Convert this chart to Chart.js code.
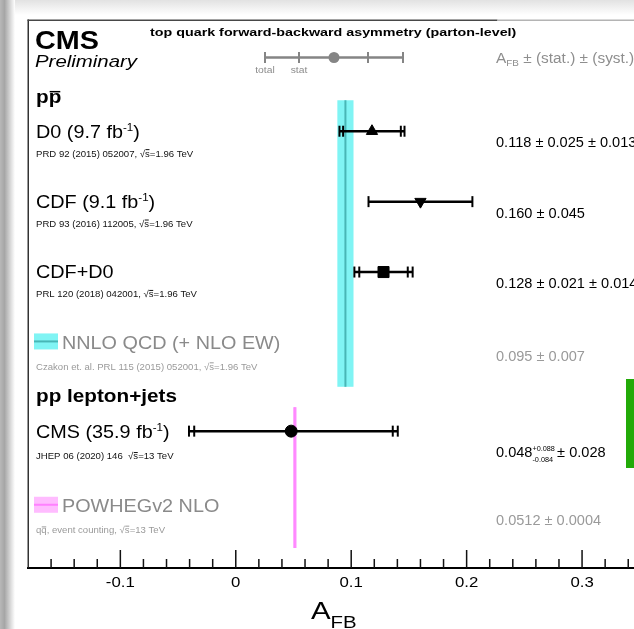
<!DOCTYPE html>
<html>
<head>
<meta charset="utf-8">
<script src="https://cdn.jsdelivr.net/npm/chart.js@4.4.1/dist/chart.umd.min.js"></script>
<style>
  html, body { margin: 0; padding: 0; background: #fff; overflow: hidden; }
  #wrap { position: relative; width: 634px; height: 629px; }
  #afbChart { position: absolute; left: 0; top: 0; }
  .shade-top { position: absolute; left: 0; top: 0; width: 634px; height: 15px; background: linear-gradient(to bottom, #e2e2e2, #fff); }
  .shade-left { position: absolute; left: 0; top: 0; width: 15px; height: 629px; background: linear-gradient(to right, #b8b8b8 0%, #a6a6a6 30%, #e6e6e6 80%, #fff 100%); }
  .green { position: absolute; left: 626px; top: 379px; width: 8px; height: 89px; background: #22aa08; }
</style>
</head>
<body>
<div id="wrap">
  <div class="shade-top"></div>
  <div class="shade-left"></div>
  <canvas id="afbChart" width="634" height="629"></canvas>
  <div class="green"></div>
</div>
<script>
// measurements
const expNames = ['D0', 'CDF', 'CDF+D0', 'CMS'];
const expLumi = ['9.7', '9.1', '', '35.9'];
const expRefs = ['PRD 92 (2015) 052007, ', 'PRD 93 (2016) 112005, ', 'PRL 120 (2018) 042001, ', 'JHEP 06 (2020) 146  '];
const expSqrtS = ['1.96', '1.96', '1.96', '13'];
const afbValues = [0.118, 0.160, 0.128, 0.048];
const statUp = [0.025, 0.045, 0.021, 0.088];
const statDown = [0.025, 0.045, 0.021, 0.084];
const systErr = [0.013, null, 0.014, 0.028];   // null: only a total error quoted

// predictions
const theoryNames = ['NNLO QCD (+ NLO EW)', 'POWHEGv2 NLO'];
const theoryRefs = ['Czakon et. al. PRL 115 (2015) 052001, ', 'qq\u0304, event counting, '];
const theorySqrtS = ['1.96', '13'];
const theoryValues = [0.095, 0.0512];
const theoryErr = [0.007, 0.0004];
const theoryDigits = [3, 4];

const groupTitles = ['pp\u0304', 'pp lepton+jets'];

// x axis
const xMajorTicks = [-0.1, 0, 0.1, 0.2, 0.3];
const xTickLabels = ['-0.1', '0', '0.1', '0.2', '0.3'];
const X_MIN = -0.18, X_MAX = 0.345, X_MINOR = 0.02;

// layout: row positions in y-scale units (1 unit = one measurement row)
const Y_MAX = 7.784;
const groupRow = [1.09, 5.34];
const expRow = [1.58, 2.58, 3.58, 5.84];
const theoryRow = [4.58, 6.9];
const theoryBand = [[1.14, 5.21], [5.5, 7.5]];

const FONT = "'Liberation Sans', Arial, Helvetica, sans-serif";
const LEFT_X = 36;
const VALUE_X = 496;

// draws a line of text pieces; yc is the middle of the capitals
function rich(ctx, x, yc, parts, base) {
  parts = parts.map(p => typeof p === 'string' ? { t: p } : p);
  const fontOf = p => `${p.style || base.style || 'normal'} ${p.weight || base.weight || 'normal'} ${p.size || base.size}px ${FONT}`;
  const sx = base.sx || 1;
  let total = 0;
  parts.forEach(p => {
    ctx.font = fontOf(p);
    p.w = ctx.measureText(p.t).width;
    if (!p.stack) total += p.w;
  });
  ctx.save();
  ctx.translate(base.align === 'center' ? x - total * sx / 2 : x, yc + base.size * 0.358);
  ctx.scale(sx, 1);
  ctx.textBaseline = 'alphabetic';
  ctx.textAlign = 'left';
  let cx = 0;
  parts.forEach(p => {
    const size = p.size || base.size, dy = p.dy || 0;
    ctx.font = fontOf(p);
    ctx.fillStyle = p.color || base.color || '#000';
    ctx.fillText(p.t, cx, dy);
    if (p.over) ctx.fillRect(cx + p.w * 0.08, dy - size * p.over, p.w * 0.84, Math.max(1, size * 0.08));
    if (!p.stack) cx += p.w;
  });
  ctx.restore();
}

// turns "q\u0304" into a piece with a bar on top
function withBars(str, over) {
  const parts = [];
  let buf = '';
  for (let i = 0; i < str.length; i++) {
    if (str[i + 1] === '\u0304') {
      if (buf) parts.push(buf);
      buf = '';
      parts.push({ t: str[i], over: over });
      i++;
    } else {
      buf += str[i];
    }
  }
  if (buf) parts.push(buf);
  return parts;
}

function sqrtS(e) {
  return [{ t: '\u221A' }, { t: 's', over: 0.8 }, '=' + e + ' TeV'];
}

const isMajor = v => xMajorTicks.some(m => Math.abs(m - v) < 1e-6);

const forestPlot = {
  id: 'forestPlot',
  beforeDatasetsDraw(chart) {
    const { ctx, scales: { x, y } } = chart;
    ctx.save();

    // prediction bands
    const bandFill = ['#80f4f4', '#ffa8ff'];
    const bandLine = ['#48b6b6', '#ff88ff'];
    const bandMin = [0, 3.5];
    theoryValues.forEach((v, i) => {
      const xc = x.getPixelForValue(v);
      const w = Math.max(x.getPixelForValue(v + theoryErr[i]) - x.getPixelForValue(v - theoryErr[i]), bandMin[i]);
      const y0 = y.getPixelForValue(theoryBand[i][0]);
      const y1 = y.getPixelForValue(theoryBand[i][1]);
      ctx.fillStyle = bandFill[i];
      ctx.fillRect(xc - w / 2, y0, w, y1 - y0);
      ctx.fillStyle = bandLine[i];
      ctx.fillRect(xc - 1, y0, 2, y1 - y0);
    });

    // error bars: total with caps, stat ticks inside
    ctx.strokeStyle = '#000';
    const cap = (px, py) => {
      ctx.lineWidth = 2;
      ctx.beginPath(); ctx.moveTo(px, py - 5.5); ctx.lineTo(px, py + 5.5); ctx.stroke();
    };
    afbValues.forEach((v, i) => {
      const py = y.getPixelForValue(expRow[i]);
      const s = systErr[i] || 0;
      const lo = x.getPixelForValue(v - Math.hypot(statDown[i], s));
      const hi = x.getPixelForValue(v + Math.hypot(statUp[i], s));
      ctx.lineWidth = 2.5;
      ctx.beginPath(); ctx.moveTo(lo, py); ctx.lineTo(hi, py); ctx.stroke();
      cap(lo, py); cap(hi, py);
      if (systErr[i] !== null) {
        cap(x.getPixelForValue(v - statDown[i]), py);
        cap(x.getPixelForValue(v + statUp[i]), py);
      }
    });

    // key in the header
    const ky = 57.5;
    ctx.strokeStyle = '#858585';
    ctx.fillStyle = '#858585';
    ctx.lineWidth = 2.5;
    ctx.beginPath(); ctx.moveTo(265, ky); ctx.lineTo(403, ky); ctx.stroke();
    ctx.lineWidth = 2;
    [265, 299, 368, 403].forEach(kx => {
      ctx.beginPath(); ctx.moveTo(kx, ky - 5.5); ctx.lineTo(kx, ky + 5.5); ctx.stroke();
    });
    ctx.beginPath(); ctx.arc(334, ky, 5.5, 0, Math.PI * 2); ctx.fill();
    ctx.restore();
  },
  afterDraw(chart) {
    const { ctx, chartArea: a, scales: { x, y } } = chart;
    ctx.save();

    // frame
    ctx.fillStyle = '#333';
    ctx.fillRect(a.left - 0.5, a.top - 0.5, 1.5, a.bottom - a.top);
    ctx.fillStyle = '#484848';
    ctx.fillRect(a.left - 0.5, a.top - 0.5, 470, 1.5);
    ctx.fillStyle = '#b4b4b4';
    ctx.fillRect(a.left + 469.5, a.top - 0.5, a.right - a.left - 469.5, 1.5);

    // ticks pointing inwards, labels below
    ctx.fillStyle = '#111';
    x.ticks.forEach(t => {
      const px = x.getPixelForValue(t.value);
      if (px <= a.left + 1) return;
      const len = isMajor(t.value) ? 18 : 9;
      ctx.fillRect(px - 0.75, a.bottom - len, 1.5, len);
    });
    xMajorTicks.forEach((v, i) => {
      rich(ctx, x.getPixelForValue(v), 582, [xTickLabels[i]], { size: 14, sx: 1.2, align: 'center' });
    });
    rich(ctx, 311, 610.5, ['A', { t: 'FB', size: 17, dy: 9 }], { size: 24.5, sx: 1.2 });

    // header
    rich(ctx, 35, 40, ['CMS'], { size: 25, weight: 'bold', sx: 1.15 });
    rich(ctx, 35, 61, ['Preliminary'], { size: 17, style: 'italic', sx: 1.2 });
    rich(ctx, 150, 32, ['top quark forward-backward asymmetry (parton-level)'], { size: 11, weight: 'bold', sx: 1.3 });
    rich(ctx, 265, 70, ['total'], { size: 9, sx: 1.15, color: '#8c8c8c', align: 'center' });
    rich(ctx, 299, 70, ['stat'], { size: 9, sx: 1.15, color: '#8c8c8c', align: 'center' });
    rich(ctx, VALUE_X, 58, ['A', { t: 'FB', size: 9, dy: 3 }, ' \u00B1 (stat.) \u00B1 (syst.)'], { size: 14, sx: 1.1, color: '#8e8e8e' });

    // group titles
    groupTitles.forEach((g, i) => {
      rich(ctx, LEFT_X, y.getPixelForValue(groupRow[i]), withBars(g, 0.68), { size: 18, weight: 'bold', sx: 1.15 });
    });

    // measurements
    afbValues.forEach((v, i) => {
      const py = y.getPixelForValue(expRow[i]);
      const name = expLumi[i]
        ? [expNames[i] + ' (' + expLumi[i] + ' fb', { t: '-1', size: 10.5, dy: -7 }, ')']
        : [expNames[i]];
      rich(ctx, LEFT_X, py, name, { size: 18, sx: 1.1 });
      rich(ctx, LEFT_X, py + (i === 3 ? 25 : 22), [expRefs[i]].concat(sqrtS(expSqrtS[i])), { size: 9.3, sx: 1.03, color: '#111' });
      let val;
      if (systErr[i] === null) {
        val = [v.toFixed(3) + ' \u00B1 ' + statUp[i].toFixed(3)];
      } else if (statUp[i] === statDown[i]) {
        val = [v.toFixed(3) + ' \u00B1 ' + statUp[i].toFixed(3) + ' \u00B1 ' + systErr[i].toFixed(3)];
      } else {
        val = [v.toFixed(3),
          { t: '+' + statUp[i].toFixed(3), size: 7, dy: -6.5, stack: true },
          { t: '-' + statDown[i].toFixed(3), size: 7, dy: 4.5 },
          ' \u00B1 ' + systErr[i].toFixed(3)];
      }
      rich(ctx, VALUE_X, py + (val.length > 1 ? 21 : 11), val, { size: 14, sx: 1.04 });
    });

    // predictions
    const boxFill = ['#80f4f4', '#ffbcff'];
    const boxLine = ['#48b6b6', '#ff80ff'];
    theoryValues.forEach((v, i) => {
      const py = y.getPixelForValue(theoryRow[i]);
      ctx.fillStyle = boxFill[i];
      ctx.fillRect(34, py - 9, 24, 16);
      ctx.fillStyle = boxLine[i];
      ctx.fillRect(34, py - 2, 24, 2);
      rich(ctx, 62, py, [theoryNames[i]], { size: 18, sx: 1.1, color: '#8a8a8a' });
      rich(ctx, LEFT_X, py + 24, withBars(theoryRefs[i], 0.72).concat(sqrtS(theorySqrtS[i])), { size: 9.3, sx: 1.03, color: '#9a9a9a' });
      const d = theoryDigits[i];
      rich(ctx, VALUE_X, py + 14, [v.toFixed(d) + ' \u00B1 ' + theoryErr[i].toFixed(d)], { size: 14, sx: 1.04, color: '#9a9a9a' });
    });
    ctx.restore();
  }
};

const tickVals = [];
for (let k = 0; X_MIN + k * X_MINOR <= X_MAX + 1e-9; k++) {
  tickVals.push(Math.round((X_MIN + k * X_MINOR) * 100) / 100);
}

const ctx = document.getElementById('afbChart').getContext('2d');
new Chart(ctx, {
  type: 'scatter',
  data: {
    datasets: [{
      data: afbValues.map((v, i) => ({ x: v, y: expRow[i] })),
      pointStyle: ['triangle', 'triangle', 'rect', 'circle'],
      rotation: [0, 180, 0, 0],
      pointRadius: [6.5, 6.5, 7.8, 6],
      backgroundColor: '#000',
      borderColor: '#000',
      borderWidth: 1
    }]
  },
  options: {
    responsive: false,
    animation: false,
    events: [],
    layout: { autoPadding: false, padding: { left: 28, top: 20, right: 0, bottom: 0 } },
    plugins: {
      legend: { display: false },
      tooltip: { enabled: false }
    },
    scales: {
      x: {
        type: 'linear',
        min: X_MIN,
        max: X_MAX,
        afterBuildTicks: scale => { scale.ticks = tickVals.map(v => ({ value: v })); },
        afterFit: scale => { scale.height = 61; },
        grid: { display: false, drawTicks: false },
        border: { display: true, color: '#000', width: 2 },
        ticks: { display: false }
      },
      y: {
        type: 'linear',
        display: false,
        reverse: true,
        min: 0,
        max: Y_MAX
      }
    }
  },
  plugins: [forestPlot]
});
</script>
</body>
</html>
